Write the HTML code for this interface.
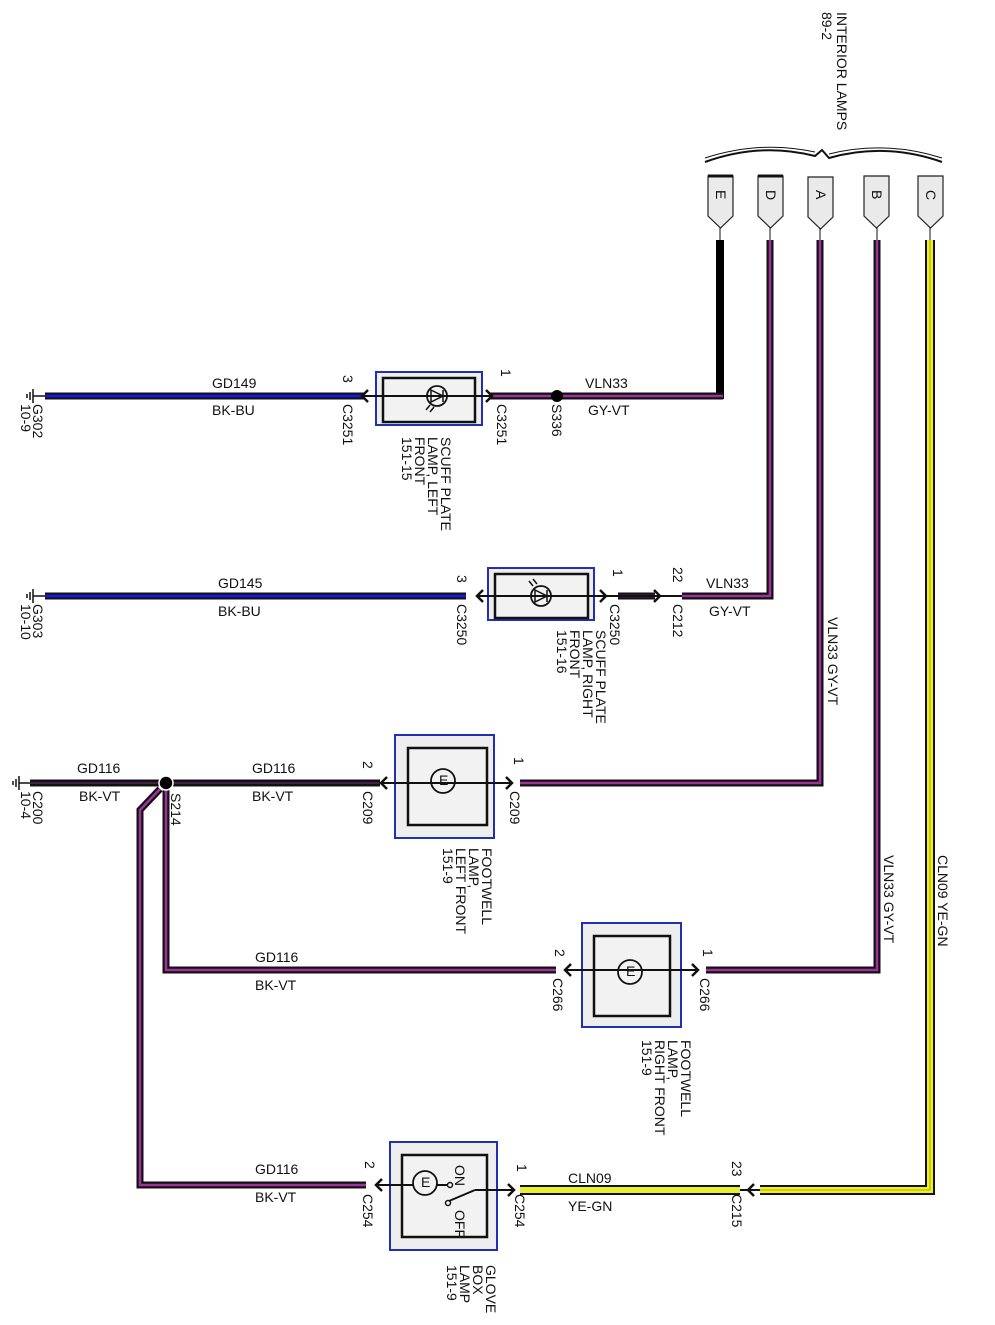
<!DOCTYPE html>
<html><head><meta charset="utf-8"><style>
html,body{margin:0;padding:0;background:#fff}
svg{display:block}
text{font-family:"Liberation Sans",sans-serif;font-size:14px;fill:#111}
.ob{fill:#eeeeee;stroke:#2030b0;stroke-width:2}
.ib{fill:#f2f2f2;stroke:#111;stroke-width:2.5}
.k{fill:none;stroke:#111;stroke-linejoin:miter}
.ar{fill:none;stroke:#111;stroke-width:2.5}
</style></head><body>
<svg width="995" height="1325" viewBox="0 0 995 1325" xmlns="http://www.w3.org/2000/svg">
<!-- header -->
<text transform="translate(837,12) rotate(90)" font-size="14">INTERIOR LAMPS<tspan x="0" dy="15">89-2</tspan></text>
<path d="M705,162 Q760,142 815,156 L822,150 L829,158 Q885,142 942,162" fill="none" stroke="#111" stroke-width="2"/>
<path d="M705,158 Q760,140 815,152" fill="none" stroke="#111" stroke-width="1"/>
<path d="M829,154 Q885,140 942,158" fill="none" stroke="#111" stroke-width="1"/>
<g fill="#eaeaea" stroke="#222" stroke-width="1.2">
<path d="M708,176 h25 v40 l-12.5,12 l-12.5,-12 z"/>
<path d="M758,176 h25 v40 l-12.5,12 l-12.5,-12 z"/>
<path d="M808,177 h25 v40 l-12.5,12 l-12.5,-12 z"/>
<path d="M864,176 h25 v40 l-12.5,12 l-12.5,-12 z"/>
<path d="M918,176 h25 v40 l-12.5,12 l-12.5,-12 z"/>
</g>
<g stroke="#111" stroke-width="3"><line x1="708" y1="176" x2="733" y2="176"/><line x1="758" y1="176" x2="783" y2="176"/></g>
<text transform="translate(716,190) rotate(90)">E</text>
<text transform="translate(766,190) rotate(90)">D</text>
<text transform="translate(816,190) rotate(90)">A</text>
<text transform="translate(872,190) rotate(90)">B</text>
<text transform="translate(926,190) rotate(90)">C</text>
<g stroke="#111" stroke-width="1"><line x1="720" y1="228" x2="720" y2="240"/><line x1="770" y1="228" x2="770" y2="240"/><line x1="820" y1="228" x2="820" y2="240"/><line x1="877" y1="228" x2="877" y2="240"/><line x1="930" y1="228" x2="930" y2="240"/></g>

<!-- E wire -->
<line x1="720" y1="240" x2="720" y2="399" stroke="#000" stroke-width="8"/>
<path d="M723,396 H490" class="k" stroke-width="7"/><path d="M723,396 H490" fill="none" stroke="#a030a0" stroke-width="2.5"/>
<circle cx="557" cy="396" r="6" fill="#000"/>
<path d="M365,396 H45" class="k" stroke-width="7"/><path d="M365,396 H45" fill="none" stroke="#1818d0" stroke-width="3"/>
<rect x="376" y="372" width="106" height="53" class="ob"/>
<rect x="383" y="378" width="92" height="44" class="ib"/>
<line x1="362" y1="396" x2="492" y2="396" stroke="#111" stroke-width="2"/>
<polyline points="368,390 362,396 368,402" class="ar"/><polyline points="486,390 492,396 486,402" class="ar"/>
<circle cx="437" cy="396" r="10" fill="none" stroke="#111" stroke-width="1.8"/>
<path d="M431,390 L443,396 L431,402 Z M443,390 V402" fill="none" stroke="#111" stroke-width="1.5"/>
<path d="M430,405 l-4,5 M434,407 l-4,5" stroke="#111" stroke-width="1.5"/>
<line x1="33" y1="396" x2="45" y2="396" stroke="#111" stroke-width="1.5"/>
<g stroke="#111" stroke-width="1.5"><line x1="33" y1="389" x2="33" y2="403"/><line x1="30" y1="392" x2="30" y2="400"/><line x1="27" y1="394" x2="27" y2="398"/></g>
<text x="212" y="388">GD149</text><text x="212" y="415">BK-BU</text>
<text x="585" y="388">VLN33</text><text x="588" y="415">GY-VT</text>
<text transform="translate(343,375) rotate(90)">3</text>
<text transform="translate(343,404) rotate(90)">C3251</text>
<text transform="translate(501,369) rotate(90)">1</text>
<text transform="translate(497,404) rotate(90)">C3251</text>
<text transform="translate(552,404) rotate(90)">S336</text>
<text transform="translate(33,404) rotate(90)" font-size="13">G302<tspan x="0" dy="12">10-9</tspan></text>
<text transform="translate(441,437) rotate(90)" font-size="13.5">SCUFF PLATE<tspan x="0" dy="13">LAMP, LEFT</tspan><tspan x="0" dy="13">FRONT</tspan><tspan x="0" dy="13">151-15</tspan></text>

<!-- D wire -->
<path d="M770,240 V596 H682" class="k" stroke-width="7"/><path d="M770,240 V596 H682" fill="none" stroke="#a030a0" stroke-width="2.5"/>
<path d="M655,596 H618" class="k" stroke-width="7"/><path d="M655,596 H618" fill="none" stroke="#a030a0" stroke-width="2.5"/>
<line x1="600" y1="596" x2="682" y2="596" stroke="#111" stroke-width="2"/>
<polyline points="654,590 660,596 654,602" class="ar"/>
<path d="M466,596 H45" class="k" stroke-width="7"/><path d="M466,596 H45" fill="none" stroke="#1818d0" stroke-width="3"/>
<rect x="488" y="568" width="106" height="52" class="ob"/>
<rect x="495" y="574" width="93" height="44" class="ib"/>
<line x1="477" y1="596" x2="606" y2="596" stroke="#111" stroke-width="2"/>
<polyline points="483,590 477,596 483,602" class="ar"/><polyline points="600,590 606,596 600,602" class="ar"/>
<circle cx="541" cy="596" r="10" fill="none" stroke="#111" stroke-width="1.8"/>
<path d="M535,590 L547,596 L535,602 Z M547,590 V602" fill="none" stroke="#111" stroke-width="1.5"/>
<path d="M533,586 l-4,-5 M537,584 l-4,-5" stroke="#111" stroke-width="1.5"/>
<line x1="33" y1="596" x2="45" y2="596" stroke="#111" stroke-width="1.5"/>
<g stroke="#111" stroke-width="1.5"><line x1="33" y1="589" x2="33" y2="603"/><line x1="30" y1="592" x2="30" y2="600"/><line x1="27" y1="594" x2="27" y2="598"/></g>
<text x="218" y="588">GD145</text><text x="218" y="616">BK-BU</text>
<text x="706" y="588">VLN33</text><text x="709" y="616">GY-VT</text>
<text transform="translate(457,575) rotate(90)">3</text>
<text transform="translate(457,604) rotate(90)">C3250</text>
<text transform="translate(613,569) rotate(90)">1</text>
<text transform="translate(610,604) rotate(90)">C3250</text>
<text transform="translate(673,567) rotate(90)">22</text>
<text transform="translate(673,604) rotate(90)">C212</text>
<text transform="translate(33,604) rotate(90)" font-size="13">G303<tspan x="0" dy="12">10-10</tspan></text>
<text transform="translate(596,630) rotate(90)" font-size="13.5">SCUFF PLATE<tspan x="0" dy="13">LAMP, RIGHT</tspan><tspan x="0" dy="13">FRONT</tspan><tspan x="0" dy="13">151-16</tspan></text>
<text transform="translate(828,617) rotate(90)">VLN33   GY-VT</text>

<!-- A wire -->
<path d="M820,240 V783 H520" class="k" stroke-width="7"/><path d="M820,240 V783 H520" fill="none" stroke="#a030a0" stroke-width="2.5"/>
<path d="M380,783 H30" class="k" stroke-width="7"/><path d="M380,783 H30" fill="none" stroke="#7a2a7a" stroke-width="1"/>
<path d="M166,783 V970 H556" class="k" stroke-width="7"/><path d="M166,783 V970 H556" fill="none" stroke="#a030a0" stroke-width="2.5"/>
<path d="M160,789 L140,810 V1185 H366" class="k" stroke-width="7"/><path d="M160,789 L140,810 V1185 H366" fill="none" stroke="#a030a0" stroke-width="2.5"/>
<circle cx="166" cy="783" r="7" fill="#000" stroke="#fff" stroke-width="1.5"/>
<rect x="395" y="735" width="99" height="103" class="ob"/>
<rect x="408" y="748" width="79" height="77" class="ib"/>
<line x1="381" y1="783" x2="512" y2="783" stroke="#111" stroke-width="2"/>
<polyline points="387,777 381,783 387,789" class="ar"/><polyline points="506,777 512,783 506,789" class="ar"/>
<circle cx="443" cy="781" r="12" fill="none" stroke="#111" stroke-width="1.8"/>
<text x="439" y="785" font-size="8">E</text>
<line x1="19" y1="783" x2="30" y2="783" stroke="#111" stroke-width="1.5"/>
<g stroke="#111" stroke-width="1.5"><line x1="19" y1="776" x2="19" y2="790"/><line x1="16" y1="779" x2="16" y2="787"/><line x1="13" y1="781" x2="13" y2="785"/></g>
<text x="77" y="773">GD116</text><text x="79" y="801">BK-VT</text>
<text x="252" y="773">GD116</text><text x="252" y="801">BK-VT</text>
<text transform="translate(171,793) rotate(90)">S214</text>
<text transform="translate(363,761) rotate(90)">2</text>
<text transform="translate(363,791) rotate(90)">C209</text>
<text transform="translate(514,757) rotate(90)">1</text>
<text transform="translate(510,791) rotate(90)">C209</text>
<text transform="translate(33,791) rotate(90)" font-size="13">C200<tspan x="0" dy="12">10-4</tspan></text>
<text transform="translate(482,848) rotate(90)" font-size="13.5">FOOTWELL<tspan x="0" dy="13">LAMP,</tspan><tspan x="0" dy="13">LEFT FRONT</tspan><tspan x="0" dy="13">151-9</tspan></text>

<!-- B wire -->
<path d="M877,240 V970 H706" class="k" stroke-width="7"/><path d="M877,240 V970 H706" fill="none" stroke="#a030a0" stroke-width="2.5"/>
<rect x="582" y="923" width="99" height="104" class="ob"/>
<rect x="594" y="936" width="76" height="80" class="ib"/>
<line x1="565" y1="970" x2="698" y2="970" stroke="#111" stroke-width="2"/>
<polyline points="571,964 565,970 571,976" class="ar"/><polyline points="692,964 698,970 692,976" class="ar"/>
<circle cx="630" cy="972" r="12" fill="none" stroke="#111" stroke-width="1.8"/>
<text x="626" y="976" font-size="8">E</text>
<text x="255" y="962">GD116</text><text x="255" y="990">BK-VT</text>
<text transform="translate(555,949) rotate(90)">2</text>
<text transform="translate(553,978) rotate(90)">C266</text>
<text transform="translate(703,949) rotate(90)">1</text>
<text transform="translate(700,978) rotate(90)">C266</text>
<text transform="translate(681,1040) rotate(90)" font-size="13.5">FOOTWELL<tspan x="0" dy="13">LAMP,</tspan><tspan x="0" dy="13">RIGHT FRONT</tspan><tspan x="0" dy="13">151-9</tspan></text>
<text transform="translate(884,855) rotate(90)">VLN33   GY-VT</text>

<!-- C wire -->
<path d="M930,240 V1190 H760" class="k" stroke-width="10"/><path d="M930,240 V1190 H760" fill="none" stroke="#f0f020" stroke-width="6"/>
<path d="M930,240 V1190 H760" fill="none" stroke="#707000" stroke-width="0.6"/>
<path d="M740,1190 H520" class="k" stroke-width="10"/><path d="M740,1190 H520" fill="none" stroke="#e8ee30" stroke-width="6"/>
<line x1="740" y1="1190" x2="760" y2="1190" stroke="#111" stroke-width="2"/>
<polyline points="754,1184 748,1190 754,1196" class="ar"/>
<text transform="translate(938,855) rotate(90)">CLN09   YE-GN</text>
<rect x="390" y="1142" width="107" height="108" class="ob"/>
<rect x="402" y="1155" width="85" height="82" class="ib"/>
<line x1="376" y1="1185" x2="450" y2="1185" stroke="#111" stroke-width="2"/>
<polyline points="382,1179 376,1185 382,1191" class="ar"/>
<circle cx="425" cy="1183" r="12" fill="#f2f2f2" stroke="#111" stroke-width="1.8"/>
<text x="421" y="1187" font-size="8">E</text>
<circle cx="450" cy="1185" r="2.5" fill="#fff" stroke="#111" stroke-width="1.5"/>
<circle cx="448" cy="1203" r="2.5" fill="#fff" stroke="#111" stroke-width="1.5"/>
<line x1="449" y1="1201" x2="475" y2="1190" stroke="#111" stroke-width="2"/>
<line x1="475" y1="1190" x2="514" y2="1190" stroke="#111" stroke-width="2"/>
<polyline points="508,1184 514,1190 508,1196" class="ar"/>
<text transform="translate(455,1165) rotate(90)" font-size="13">ON</text>
<text transform="translate(455,1210) rotate(90)" font-size="13">OFF</text>
<text x="568" y="1183">CLN09</text><text x="568" y="1211">YE-GN</text>
<text x="255" y="1174">GD116</text><text x="255" y="1202">BK-VT</text>
<text transform="translate(365,1161) rotate(90)">2</text>
<text transform="translate(363,1194) rotate(90)">C254</text>
<text transform="translate(517,1164) rotate(90)">1</text>
<text transform="translate(515,1194) rotate(90)">C254</text>
<text transform="translate(732,1161) rotate(90)">23</text>
<text transform="translate(732,1194) rotate(90)">C215</text>
<text transform="translate(486,1265) rotate(90)" font-size="13.5">GLOVE<tspan x="0" dy="13">BOX</tspan><tspan x="0" dy="13">LAMP</tspan><tspan x="0" dy="13">151-9</tspan></text>
</svg>
</body></html>
